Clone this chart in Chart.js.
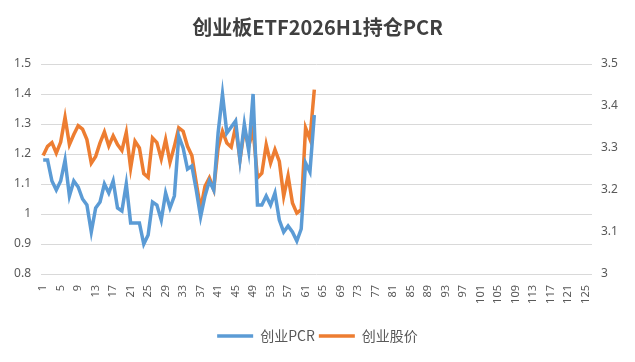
<!DOCTYPE html>
<html lang="zh">
<head>
  <meta charset="UTF-8">
  <title>创业板ETF2026H1持仓PCR</title>
  <script src="https://cdn.jsdelivr.net/npm/chart.js@4.4.1/dist/chart.umd.min.js"></script>
  <style>
    html, body { margin: 0; padding: 0; background: #fff; }
    #box { width: 635px; height: 362px; position: relative; }
  </style>
</head>
<body>
  <div id="box"><canvas id="myChart" width="635" height="362"></canvas></div>
  <script>
    // x categories 1..126, only every 4th one gets a label
    var dias = [];
    for (var i = 1; i <= 126; i++) { dias.push(String(i)); }

    var pcr = [1.18, 1.18, 1.11, 1.08, 1.11, 1.18, 1.06, 1.11, 1.09, 1.05,
               1.03, 0.94, 1.02, 1.04, 1.10, 1.07, 1.11, 1.02, 1.01, 1.10,
               0.97, 0.97, 0.97, 0.90, 0.93, 1.04, 1.03, 0.98, 1.07, 1.02,
               1.06, 1.26, 1.22, 1.15, 1.16, 1.08, 0.99, 1.06, 1.11, 1.08,
               1.27, 1.40, 1.27, 1.29, 1.31, 1.18, 1.30, 1.21, 1.40, 1.03,
               1.03, 1.06, 1.03, 1.07, 0.98, 0.94, 0.96, 0.94, 0.91, 0.95,
               1.17, 1.14, 1.33];

    var precio = [3.282, 3.304, 3.313, 3.288, 3.314, 3.373, 3.308, 3.332, 3.353, 3.345,
                  3.320, 3.264, 3.280, 3.312, 3.338, 3.305, 3.329, 3.308, 3.294, 3.337,
                  3.252, 3.316, 3.300, 3.239, 3.230, 3.324, 3.313, 3.274, 3.320, 3.266,
                  3.304, 3.348, 3.340, 3.304, 3.282, 3.217, 3.155, 3.209, 3.229, 3.201,
                  3.300, 3.340, 3.312, 3.302, 3.351, 3.272, 3.344, 3.304, 3.344, 3.229,
                  3.240, 3.308, 3.264, 3.296, 3.268, 3.185, 3.234, 3.169, 3.145, 3.153,
                  3.348, 3.321, 3.439];

    var ticksIzq = { min: 0.8, max: 1.5, step: 0.1 };
    var ticksDer = { min: 3, max: 3.5, step: 0.1 };

    var gris = '#595959';
    var fuente = "'Noto Sans', 'Noto Sans CJK SC', sans-serif";

    var ctx = document.getElementById('myChart').getContext('2d');
    var chart = new Chart(ctx, {
      type: 'line',
      data: {
        labels: dias,
        datasets: [{
          label: '创业PCR',
          data: pcr,
          borderColor: '#5b9bd5',
          backgroundColor: '#5b9bd5',
          borderWidth: 3.5,
          pointRadius: 0,
          tension: 0,
          yAxisID: 'y'
        }, {
          label: '创业股价',
          data: precio,
          borderColor: '#ed7d31',
          backgroundColor: '#ed7d31',
          borderWidth: 3.5,
          pointRadius: 0,
          tension: 0,
          yAxisID: 'y1'
        }]
      },
      options: {
        responsive: false,
        animation: false,
        layout: { padding: { left: 0, right: 0, top: 0, bottom: 9 } },
        plugins: {
          title: {
            display: true,
            text: '创业板ETF2026H1持仓PCR',
            color: '#404040',
            font: { family: "'Noto Sans CJK SC', sans-serif", size: 20, weight: 'bold' },
            padding: { top: 15, bottom: 25 }
          },
          legend: {
            position: 'bottom',
            labels: {
              color: gris,
              font: { family: "'Noto Sans CJK SC', sans-serif", size: 14 },
              usePointStyle: true,
              pointStyle: 'line',
              pointStyleWidth: 36,
              padding: 4
            }
          },
          tooltip: { enabled: false }
        },
        scales: {
          x: {
            offset: true,
            grid: { display: false },
            border: { display: false },
            ticks: {
              autoSkip: false,
              maxRotation: 90,
              minRotation: 90,
              padding: 3,
              color: gris,
              font: { family: fuente, size: 11 },
              callback: function (v, idx) { return idx % 4 === 0 ? dias[idx] : null; }
            },
            afterFit: function (s) { s.height = 51; }
          },
          y: {
            position: 'left',
            min: ticksIzq.min,
            max: ticksIzq.max,
            border: { display: false },
            grid: { color: '#d9d9d9', drawTicks: false },
            ticks: {
              stepSize: ticksIzq.step,
              padding: 10,
              color: gris,
              font: { family: fuente, size: 12 },
              callback: function (v) { return String(+v.toFixed(1)); }
            },
            afterFit: function (s) { s.width = 41; }
          },
          y1: {
            position: 'right',
            min: ticksDer.min,
            max: ticksDer.max,
            border: { display: false },
            grid: { drawOnChartArea: false, drawTicks: false },
            ticks: {
              stepSize: ticksDer.step,
              padding: 9,
              color: gris,
              font: { family: fuente, size: 12 },
              callback: function (v) { return String(+v.toFixed(1)); }
            },
            afterFit: function (s) { s.width = 43; }
          }
        }
      }
    });
  </script>
</body>
</html>
